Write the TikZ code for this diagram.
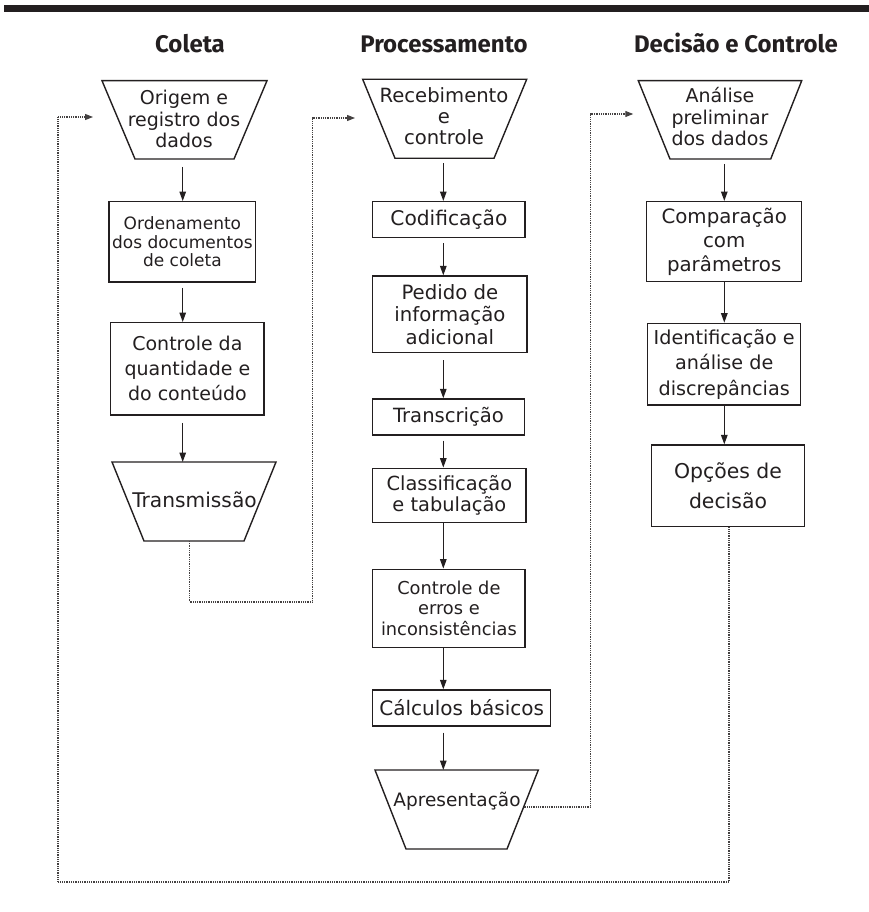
\documentclass[tikz,border=0pt]{standalone}
\usepackage{fontspec}
\setmainfont{DejaVu Sans}
\newfontfamily\headfont{Fira Sans}
\usetikzlibrary{arrows.meta}
\definecolor{ink}{HTML}{231F20}
\begin{document}
\begin{tikzpicture}[x=1pt,y=-1pt,
  box/.style={draw=ink, line width=1.4pt, inner sep=0pt, align=center, text=ink,
    font=\fontsize{19.6}{23}\selectfont},
  trap/.style={draw=ink, line width=1.4pt, line join=miter},
  ttext/.style={inner sep=0pt, align=center, text=ink, font=\fontsize{19}{21.5}\selectfont},
  head/.style={anchor=base, text=ink, font=\headfont\bfseries\fontsize{24}{28}\selectfont},
  arr/.style={draw=ink, line width=1.3pt, -{Triangle[length=9.5pt,width=6.5pt]}, shorten <=5pt},
  dotln/.style={draw=ink!85, line width=1.1pt, dash pattern=on 1pt off 0.8pt,
    -{Triangle[length=8pt,width=6pt]}}]
\useasboundingbox (0,0) rectangle (869,912);
\fill[ink] (4,5.5) rectangle (869,12.5);

% headers
\node[head] (h1) at (190,52.7) {Coleta};
\node[head] (h2) at (444,52.7) {Processamento};
\node[head] (h3) at (736,52.7) {Decisão e Controle};

% column axes
\coordinate (c1) at (182.7,0);
\coordinate (c2) at (443.3,0);
\coordinate (c3) at (724.3,0);

% ---- Coleta
\draw[trap] (102,80.7) -- (267,80.7) -- (234,159) -- (135,159) -- cycle;
\node[ttext] (tA) at (184,119) {Origem e\\registro dos\\dados};
\coordinate (tAb) at (184.5,159);
\node[box, minimum width=146.7pt, minimum height=80.3pt, font=\fontsize{17}{18.6}\selectfont]
  (b1) at (182.4,241.9) {Ordenamento\\dos documentos\\de coleta};
\node[box, minimum width=153.3pt, minimum height=92.3pt, font=\fontsize{19}{25}\selectfont]
  (b2) at (187.4,368.9) {Controle da\\quantidade e\\do conteúdo};
\draw[trap] (112,462) -- (276,462) -- (244,541) -- (144,541) -- cycle;
\node[ttext, font=\fontsize{20.2}{23}\selectfont] (tB) at (194.5,500) {Transmissão};
\coordinate (tBt) at (194,462);
\coordinate (tBb) at (189.3,541);

\draw[arr, shorten <=8pt] (tAb -| c1) -- (b1.north -| c1);
\draw[arr] (b1.south -| c1) -- (b2.north -| c1);
\draw[arr, shorten <=7pt] (b2.south -| c1) -- (tBt -| c1);

% ---- Processamento
\draw[trap] (362.7,79.3) -- (526.7,79.3) -- (494,158.3) -- (395,158.3) -- cycle;
\node[ttext, font=\fontsize{19.6}{21}\selectfont] (tC) at (444,116.5) {Recebimento\\e\\controle};
\coordinate (tCb) at (444.5,158.3);
\node[box, minimum width=152.3pt, minimum height=35.6pt, font=\fontsize{20.2}{23}\selectfont]
  (b3) at (448.9,219.5) {Codificação};
\node[box, minimum width=154.3pt, minimum height=76.7pt, font=\fontsize{19.7}{22.3}\selectfont]
  (b4) at (449.9,314.4) {Pedido de\\informação\\adicional};
\node[box, minimum width=151.6pt, minimum height=36pt] (b5) at (448.5,417) {Transcrição};
\node[box, minimum width=153.3pt, minimum height=54.4pt, font=\fontsize{19.4}{21.5}\selectfont]
  (b6) at (449.4,495.5) {Classificação\\e tabulação};
\node[box, minimum width=152.3pt, minimum height=78pt, font=\fontsize{17.8}{20.5}\selectfont]
  (b7) at (448.9,608.3) {Controle de\\erros e\\inconsistências};
\node[box, minimum width=178pt, minimum height=36pt, font=\fontsize{20}{23}\selectfont]
  (b8) at (461.7,708) {Cálculos básicos};
\draw[trap] (375,770) -- (538.3,770) -- (507,849) -- (406,849) -- cycle;
\node[ttext, font=\fontsize{18.5}{21}\selectfont] (tD) at (457,801) {Apresentação};
\coordinate (tDt) at (456.7,770);
\coordinate (tDr) at (523.6,807);

\draw[arr] (tCb -| c2) -- (b3.north -| c2);
\draw[arr] (b3.south -| c2) -- (b4.north -| c2);
\draw[arr, shorten <=7pt] (b4.south -| c2) -- (b5.north -| c2);
\draw[arr] (b5.south -| c2) -- (b6.north -| c2);
\draw[arr, shorten <=0pt] (b6.south -| c2) -- (b7.north -| c2);
\draw[arr, shorten <=0pt] (b7.south -| c2) -- (b8.north -| c2);
\draw[arr, shorten <=6pt] (b8.south -| c2) -- (tDt -| c2);

% ---- Decisão e Controle
\draw[trap] (638.3,80.7) -- (801.7,80.7) -- (770.7,159) -- (670,159) -- cycle;
\node[ttext, font=\fontsize{19}{21.5}\selectfont] (tE) at (720,117) {Análise\\preliminar\\dos dados};
\coordinate (tEb) at (720.3,159);
\node[box, minimum width=155pt, minimum height=80pt, font=\fontsize{19.8}{24}\selectfont]
  (b9) at (724.2,241.7) {Comparação\\com\\parâmetros};
\node[box, minimum width=153pt, minimum height=81.7pt, font=\fontsize{19.2}{25.5}\selectfont]
  (b10) at (724.2,364.2) {Identificação e\\análise de\\discrepâncias};
\node[box, minimum width=152.6pt, minimum height=81.7pt, font=\fontsize{20.4}{30}\selectfont]
  (b11) at (728,485.9) {Opções de\\decisão};

\draw[arr] (tEb -| c3) -- (b9.north -| c3);
\draw[arr, shorten <=0pt] (b9.south -| c3) -- (b10.north -| c3);
\draw[arr, shorten <=0pt] (b10.south -| c3) -- (b11.north -| c3);

% ---- dotted feedback connectors
\coordinate (d1tip) at (355,118);
\coordinate (d2tip) at (633.3,114);
\coordinate (d3tip) at (93,117);
\draw[dotln] (tBb) -- (189.3,602) -- (312.7,602) -- (312.7,118) -- (d1tip);
\draw[dotln] (tDr) -- (590.7,807) -- (590.7,114) -- (d2tip);
\draw[dotln] (b11.south -| 729,0) -- (729,882) -- (58,882) -- (58,117) -- (d3tip);
\end{tikzpicture}
\end{document}
